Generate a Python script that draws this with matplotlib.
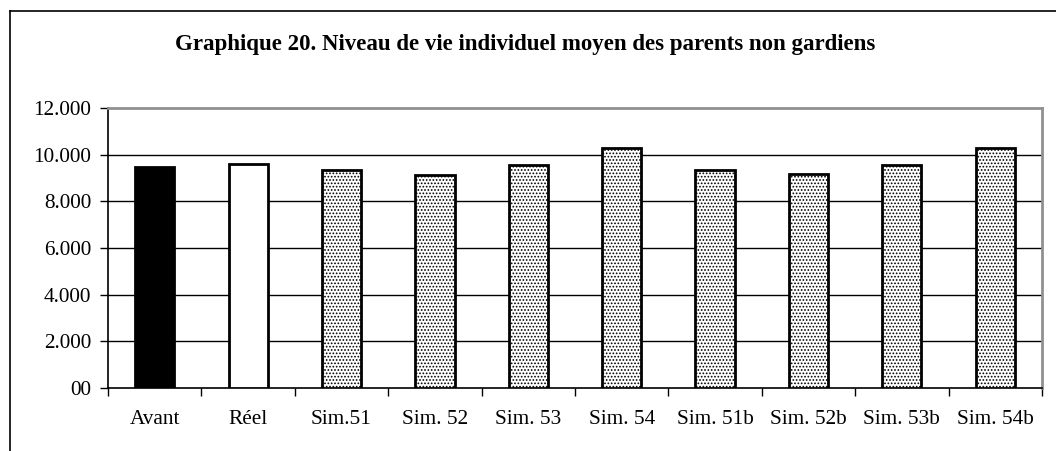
import matplotlib.pyplot as plt
from matplotlib.lines import Line2D

# data
categories = ["Avant", "Réel", "Sim.51", "Sim. 52", "Sim. 53", "Sim. 54",
              "Sim. 51b", "Sim. 52b", "Sim. 53b", "Sim. 54b"]
values = [9480, 9620, 9340, 9150, 9560, 10290, 9340, 9180, 9560, 10280]
y_ticks = [0, 2000, 4000, 6000, 8000, 10000, 12000]
y_tick_labels = ["00", "2.000", "4.000", "6.000", "8.000", "10.000", "12.000"]
title = "Graphique 20. Niveau de vie individuel moyen des parents non gardiens"

plt.rcParams.update({
    "font.family": "serif",
    "font.serif": ["Liberation Serif", "DejaVu Serif"],
    "hatch.color": "#b0b0b0",
    "hatch.linewidth": 0.8,
})

fig = plt.figure(figsize=(10.56, 4.51), dpi=100)
ax = fig.add_axes([0.1023, 0.1397, 0.8844, 0.6208])

x = list(range(len(categories)))
for i, (xi, v) in enumerate(zip(x, values)):
    if i == 0:
        face, hatch = "black", None
    elif i == 1:
        face, hatch = "white", None
    else:
        face, hatch = "white", "....."
    ax.bar(xi, v, width=0.42, color=face, edgecolor="black",
           linewidth=2.0, hatch=hatch, zorder=3)

ax.set_xlim(-0.5, len(categories) - 0.5)
ax.set_ylim(0, 12000)
ax.set_yticks(y_ticks)
ax.set_yticklabels(y_tick_labels, fontsize=15.3)
ax.set_xticks(x)
ax.set_xticklabels(categories, fontsize=15.3)
ax.set_xticks([i - 0.5 for i in range(len(categories) + 1)], minor=True)
ax.tick_params(axis="x", which="major", length=0, pad=16)
ax.tick_params(axis="x", which="minor", length=6, width=1, direction="out")
ax.tick_params(axis="y", length=6, width=1, direction="out", pad=6)

for yv in y_ticks[1:-1]:
    ax.axhline(yv, color="black", linewidth=1.0, zorder=1)

ax.spines["top"].set_color("#909090")
ax.spines["right"].set_color("#909090")
ax.spines["top"].set_linewidth(2)
ax.spines["right"].set_linewidth(2)
ax.spines["left"].set_linewidth(1.2)
ax.spines["bottom"].set_linewidth(1.2)

fig.text(0.497, 0.902, title, ha="center", va="center",
         fontsize=16.5, fontweight="bold")

# outer chart frame (only top and left edges visible in the crop)
fig.add_artist(Line2D([10 / 1056, 1.0], [1 - 11 / 451, 1 - 11 / 451],
                      transform=fig.transFigure, color="black", linewidth=1.2))
fig.add_artist(Line2D([10 / 1056, 10 / 1056], [0.0, 1 - 11 / 451],
                      transform=fig.transFigure, color="black", linewidth=1.2))

fig.savefig("out.png", dpi=100)
